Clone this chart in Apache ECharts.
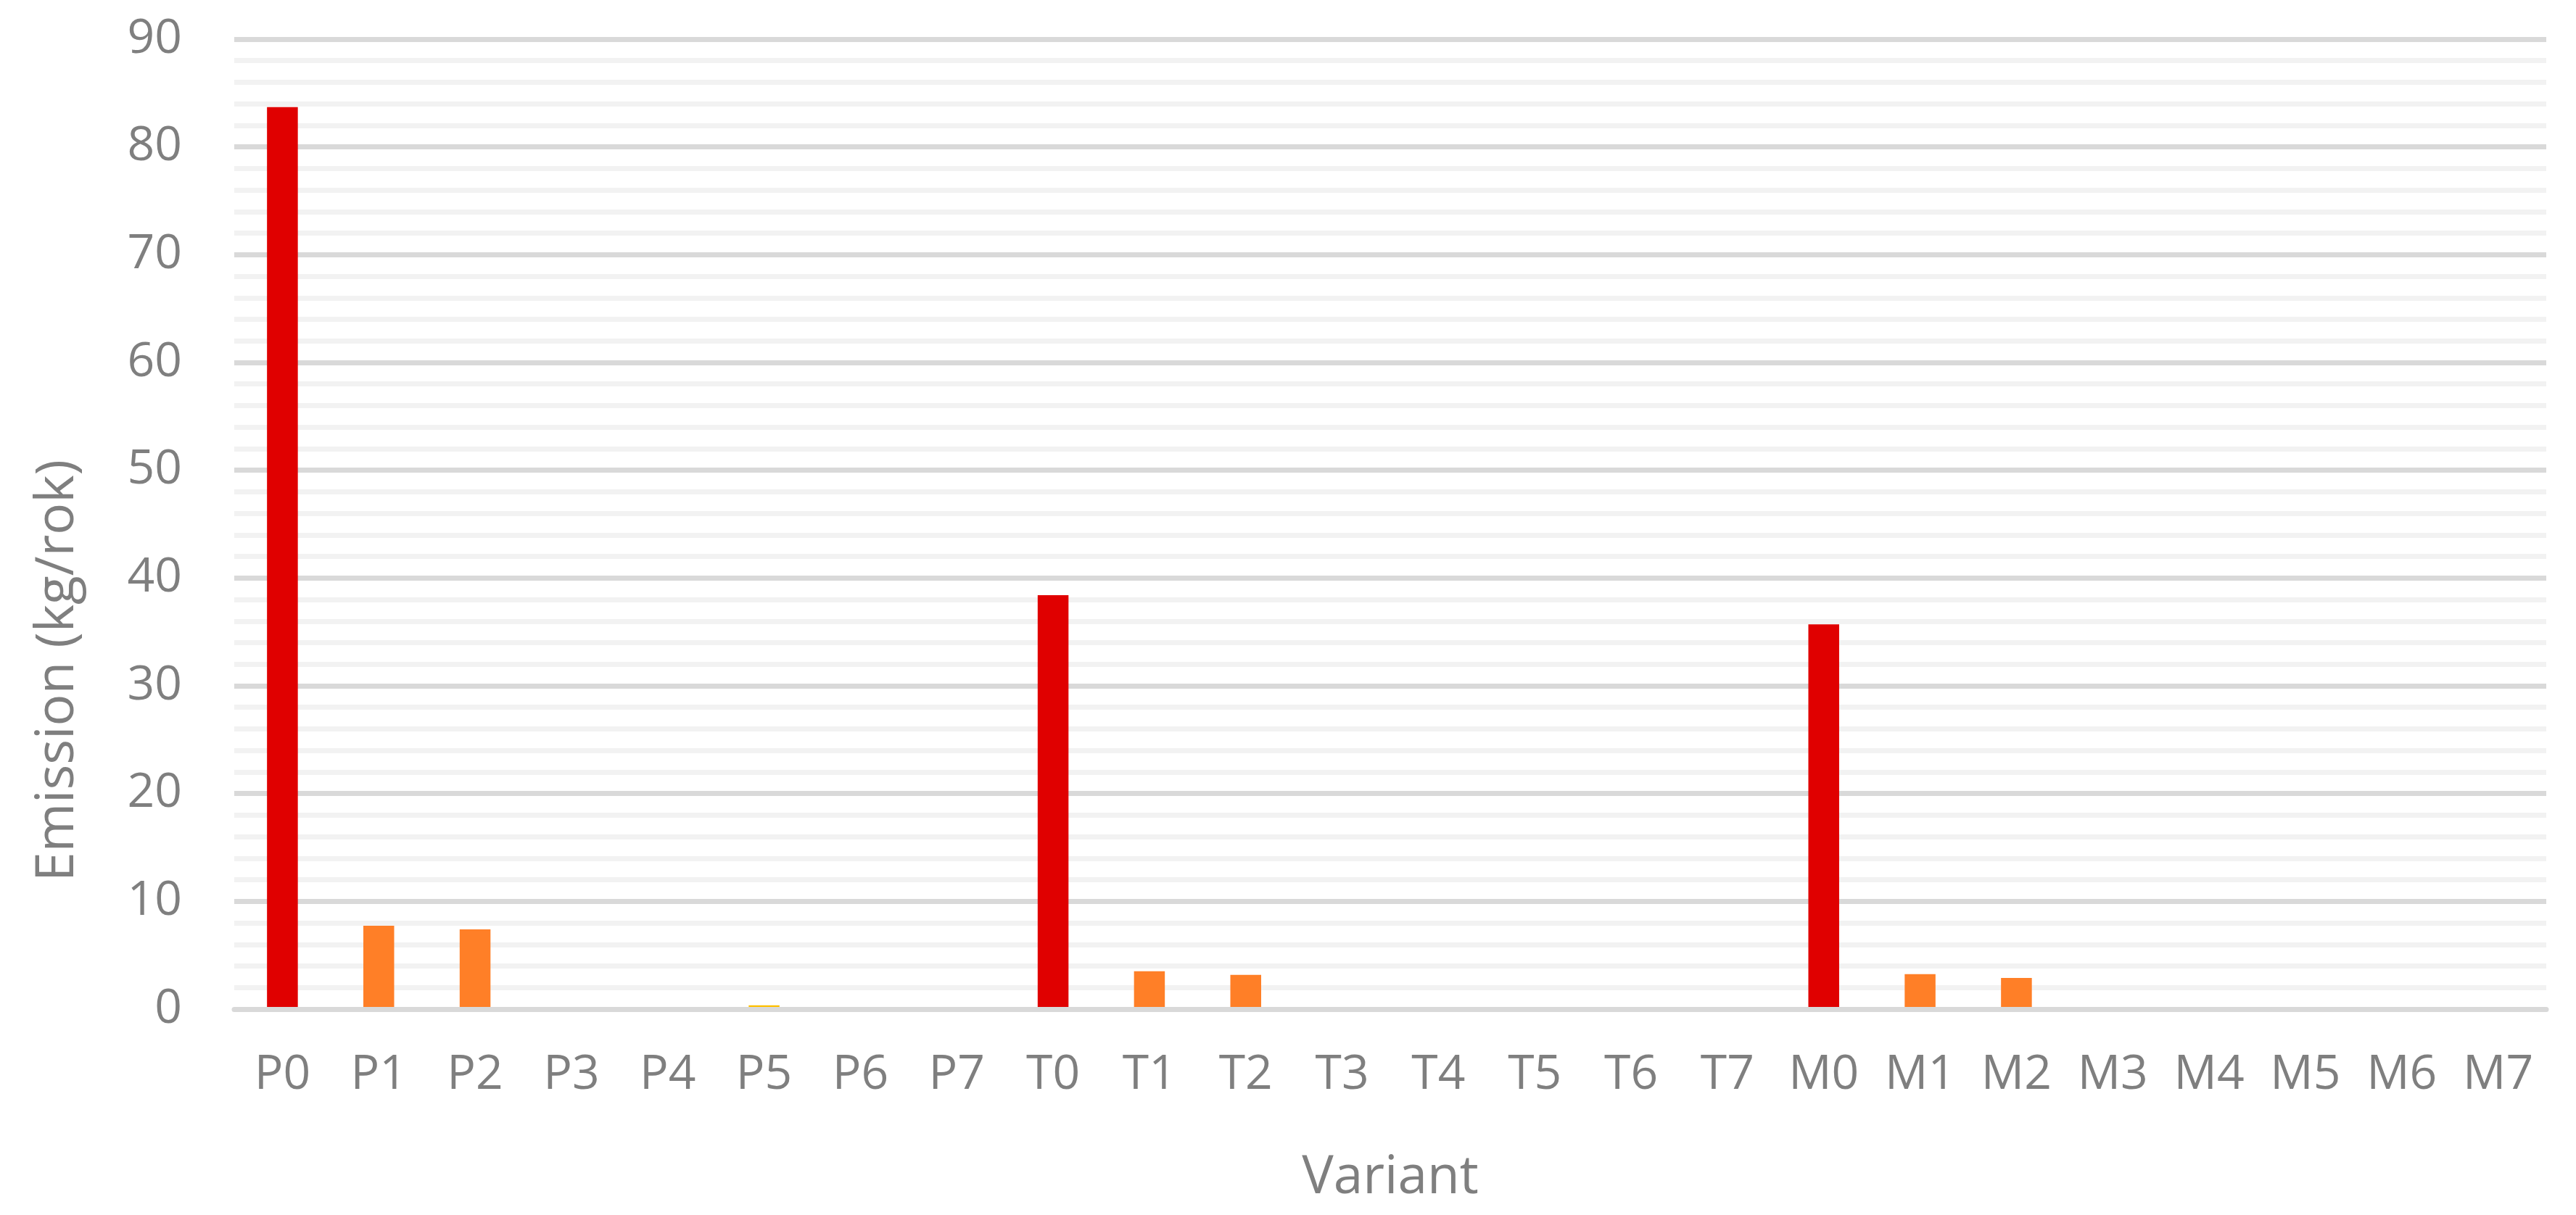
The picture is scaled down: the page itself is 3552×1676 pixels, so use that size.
<!DOCTYPE html>
<html>
<head>
<meta charset="utf-8">
<script src="https://cdn.jsdelivr.net/npm/echarts@6/dist/echarts.min.js"></script>
<style>
html, body { margin: 0; padding: 0; background: #fff; }
#chart { width: 3552px; height: 1676px; }
</style>
</head>
<body>
<div id="chart"></div>
<script>
// variant groups and their levels
var groups = ['P', 'T', 'M'];
var levels = [0, 1, 2, 3, 4, 5, 6, 7];

// emission values (kg/rok)
var pValues = [83.7, 7.74, 7.4, 0, 0, 0.35, 0, 0];
var tValues = [38.4, 3.51, 3.17, 0, 0, 0, 0, 0];
var mValues = [35.7, 3.24, 2.9, 0, 0, 0, 0, 0];

// colour per level: 0 red, 1-2 orange, the rest yellow
var levelColors = ['#e00000', '#ff7f27', '#ff7f27', '#ffc000', '#ffc000', '#ffc000', '#ffc000', '#ffc000'];

var yTicks = [0, 10, 20, 30, 40, 50, 60, 70, 80, 90];

var textColor = '#7f7f7f';
var fontName = '"Open Sans", "Noto Sans", sans-serif';

var categories = [];
var barData = [];
var allValues = [pValues, tValues, mValues];
for (var g = 0; g < groups.length; g++) {
	for (var l = 0; l < levels.length; l++) {
		categories.push(groups[g] + levels[l]);
		barData.push({
			value: allValues[g][l],
			itemStyle: { color: levelColors[l] }
		});
	}
}

var myChart = echarts.init(document.getElementById('chart'));
var option = {
	backgroundColor: '#ffffff',
	animation: false,
	textStyle: { fontFamily: fontName },
	grid: {
		left: 323,
		right: 41,
		top: 54,
		bottom: 284,
		containLabel: false
	},
	xAxis: {
		type: 'category',
		data: categories,
		z: 3,
		name: 'Variant',
		nameLocation: 'middle',
		nameGap: 197,
		nameTextStyle: { color: textColor, fontSize: 73, fontFamily: fontName },
		axisLine: { show: true, lineStyle: { color: '#d9d9d9', width: 7 } },
		axisTick: { show: false },
		axisLabel: { color: textColor, fontSize: 66, margin: 58, fontFamily: fontName, interval: 0 },
		splitLine: { show: false }
	},
	yAxis: {
		type: 'value',
		min: yTicks[0],
		max: yTicks[yTicks.length - 1],
		interval: 10,
		axisLine: { show: false },
		axisTick: { show: false },
		axisLabel: { color: textColor, fontSize: 66, margin: 72, fontFamily: fontName },
		splitLine: { show: true, lineStyle: { color: '#d9d9d9', width: 7 } },
		minorTick: { show: false, splitNumber: 5 },
		minorSplitLine: { show: true, lineStyle: { color: '#f2f2f2', width: 7 } }
	},
	graphic: [{
		type: 'text',
		x: 80,
		y: 925,
		rotation: Math.PI / 2,
		style: {
			text: 'Emission (kg/rok)',
			fill: textColor,
			fontSize: 73,
			fontFamily: fontName,
			align: 'center',
			verticalAlign: 'middle'
		}
	}],
	series: [{
		type: 'bar',
		data: barData,
		barWidth: '32%'
	}]
};
myChart.setOption(option);
</script>
</body>
</html>
